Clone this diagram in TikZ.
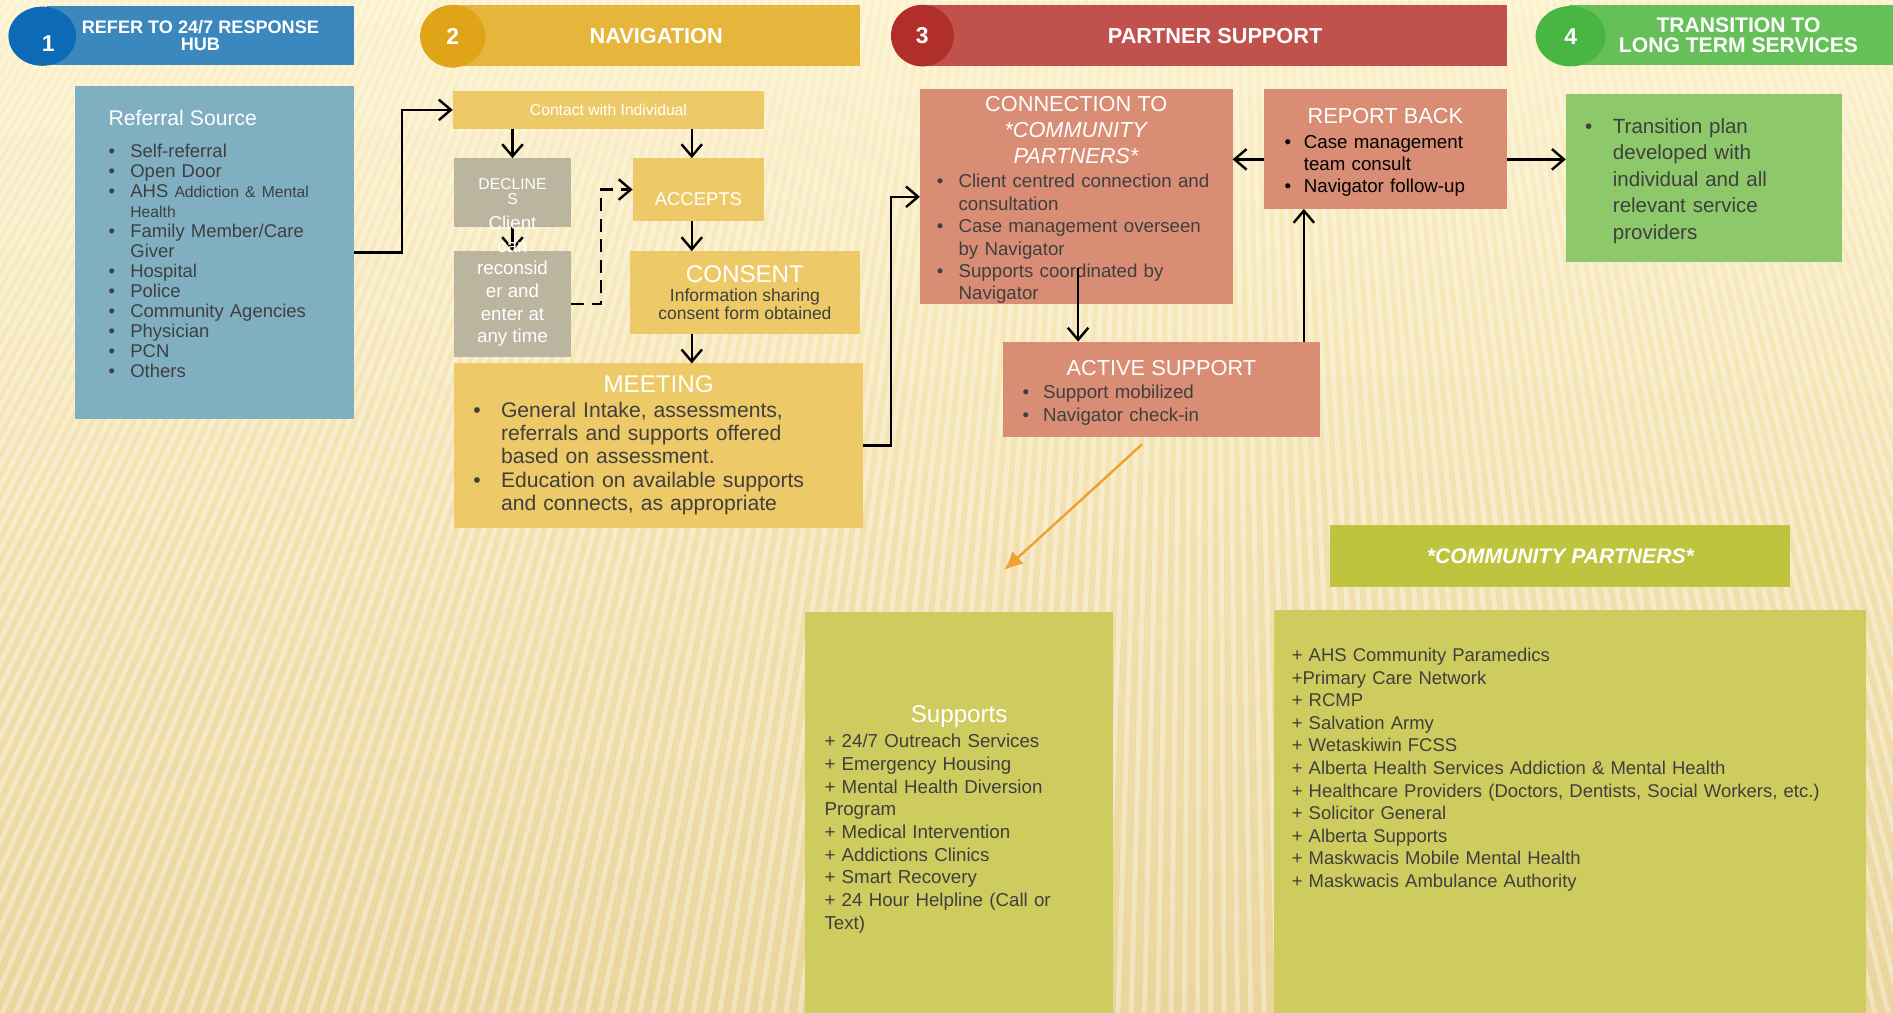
\documentclass[tikz,border=0pt]{standalone}
\usepackage{fontspec}
\setmainfont{Liberation Sans}
\usepackage{tikz}
\usetikzlibrary{shapes.geometric, arrows.meta, positioning}
\usepackage{xcolor}

\definecolor{bgtop}{HTML}{FCF0C6}
\definecolor{bgbottom}{HTML}{EAD59C}
\definecolor{hubcol}{HTML}{3B88BF}
\definecolor{hubdark}{HTML}{0D6BB5}
\definecolor{navcol}{HTML}{E5B63B}
\definecolor{navdark}{HTML}{DFA417}
\definecolor{partcol}{HTML}{C1514D}
\definecolor{partdark}{HTML}{B02F2B}
\definecolor{longcol}{HTML}{66C05A}
\definecolor{longdark}{HTML}{49B644}
\definecolor{reffill}{HTML}{81AFC2}
\definecolor{navfill}{HTML}{EDCA67}
\definecolor{greyfill}{HTML}{BBB49E}
\definecolor{redfill}{HTML}{D98D75}
\definecolor{greenfill}{HTML}{8DC86A}
\definecolor{olivefill}{HTML}{CFCC5F}
\definecolor{olivehead}{HTML}{BEC43D}
\definecolor{darktext}{HTML}{3F3F3F}
\definecolor{orangearrow}{HTML}{EFA031}

\newcommand\setfs[2]{\fontsize{#1}{#2}\selectfont}
% bullet item with hanging indent; \\ breaks the line inside the item
\newcommand\bitem[2][16pt]{\hangindent=#1\hangafter=1\makebox[#1][l]{\textbullet}{\let\\\newline#2}\par}

\begin{document}
\begin{tikzpicture}[%
        x=1pt, y=-1pt,                  % one unit per pixel, y grows downwards
        >={Straight Barb[length=10pt, width=17pt]},
        font=\setfs{15.3}{18},
    ]
    \tikzset{
        base/.style={rectangle, anchor=north west, inner sep=0pt, outer sep=0pt},
        hdr/.style={base, text=white, align=center, font=\bfseries\setfs{18}{17}},
        badge/.style={ellipse, inner sep=0pt, outer sep=0pt, text=white, font=\bfseries\setfs{19}{20}},
        navbox/.style={base, fill=navfill, text=white, align=center},
        greybox/.style={base, fill=greyfill, text=white, align=center},
        listbox/.style={base, text=darktext, align=left},
        redbox/.style={listbox, fill=redfill},
        olivebox/.style={listbox, fill=olivefill},
        % -------------------------------------------------
        % Connector line styles
        norm/.style={->, draw, black, line width=2pt},
        back/.style={norm, dash pattern=on 11pt off 6pt},
        link/.style={-{Latex[length=15pt, width=14pt]}, draw, orangearrow, line width=2pt},
    }
    %%% Background
    \useasboundingbox (0,0) rectangle (1568,839);
    \shade [top color=bgtop, bottom color=bgbottom] (0,0) rectangle (1568,839);
    \begin{scope}
        \clip (0,0) rectangle (1568,839);
        \foreach \x in {-900,-889,...,2200}
            \draw [white, opacity=.35, line width=4pt] (1000,-1500) -- (\x,839);
    \end{scope}
    %%% Headers
    \node [hdr, fill=hubcol, minimum width=254pt, minimum height=49pt, font=\bfseries\setfs{15}{14}] (hubhdr) at (39,5) {REFER TO 24/7 RESPONSE\\HUB};
    \node [badge, fill=hubdark, minimum width=56pt, minimum height=49pt, text height=25pt] (hubnum) at (35,30) {\hspace{10pt}1};
    \node [hdr, fill=navcol, minimum width=337pt, minimum height=51pt] (navhdr) at (375,4) {NAVIGATION};
    \node [badge, fill=navdark, minimum width=54pt, minimum height=52pt] (navnum) at (375,30) {2};
    \node [hdr, fill=partcol, minimum width=483pt, minimum height=51pt] (parthdr) at (765,4) {PARTNER SUPPORT};
    \node [badge, fill=partdark, minimum width=52pt, minimum height=51pt] (partnum) at (764,29.5) {3};
    \node [hdr, fill=longcol, minimum width=280pt, minimum height=50pt, font=\bfseries\setfs{17.5}{17}] (longhdr) at (1300,4) {TRANSITION TO\\LONG TERM SERVICES};
    \node [badge, fill=longdark, minimum width=58pt, minimum height=50pt] (longnum) at (1301,30) {4};
    %%% Blocks
    \node [listbox, fill=reffill, minimum width=231pt, minimum height=276pt, text width=175pt, text depth=222pt, font=\setfs{15.3}{16.6}] (referral) at (62,71) {%
        {\color{white}\setfs{17.5}{21}Referral Source\par}
        \vspace{9.4pt}
        \bitem[18pt]{Self-referral}
        \bitem[18pt]{Open Door}
        \bitem[18pt]{AHS {\setfs{13}{15}Addiction \& Mental\\Health}}
        \bitem[18pt]{Family Member/Care\\Giver}
        \bitem[18pt]{Hospital}
        \bitem[18pt]{Police}
        \bitem[18pt]{Community Agencies}
        \bitem[18pt]{Physician}
        \bitem[18pt]{PCN}
        \bitem[18pt]{Others}};
    \node [navbox, minimum width=258pt, minimum height=32pt, font=\setfs{13}{15}] (contact) at (375,75) {Contact with Individual};
    \node [greybox, minimum width=97pt, minimum height=57pt, text height=20pt, font=\setfs{13}{12.5}] (declines) at (376,131) {DECLINE\\S};
    \node [greybox, minimum width=97pt, minimum height=88pt] (reconsider) at (376,208) {};
    \node [navbox, minimum width=109pt, minimum height=52pt, text height=27pt, font=\setfs{15.3}{18}] (accepts) at (524,131) {ACCEPTS};
    \node [navbox, text=darktext, minimum width=190pt, minimum height=69pt, font=\setfs{14.5}{15.5}] (consent) at (522,208) {{\color{white}\setfs{20}{22}CONSENT}\\Information sharing\\consent form obtained};
    \node [listbox, fill=navfill, minimum width=339pt, minimum height=136pt, text width=307pt, font=\setfs{17.5}{19.3}] (meeting) at (376,301) {%
        {\centering\color{white}\setfs{20}{24}MEETING\par}
        \vspace{1pt}
        \bitem[23pt]{General Intake, assessments,\\referrals and supports offered\\based on assessment.}
        \bitem[23pt]{Education on available supports\\and connects, as appropriate}};
    \node [redbox, minimum width=259pt, minimum height=178pt, text width=231pt, text height=18pt, font=\setfs{15.5}{18.6}] (connection) at (762,74) {%
        {\centering\color{white}\setfs{18}{21.5}CONNECTION TO\\\textit{*COMMUNITY}\\\textit{PARTNERS*}\par}
        \vspace{1.5pt}
        \bitem[18pt]{Client centred connection and\\consultation}
        \bitem[18pt]{Case management overseen\\by Navigator}
        \bitem[18pt]{Supports coordinated by\\Navigator}};
    \node [redbox, text=black, minimum width=201pt, minimum height=99pt, text width=167pt, text height=18pt, font=\setfs{15.5}{18}] (report) at (1047,74) {%
        {\centering\color{white}\setfs{18}{21}REPORT BACK\par}
        \vspace{3pt}
        \bitem{Case management\\team consult}
        \bitem{Navigator follow-up}};
    \node [listbox, fill=greenfill, minimum width=229pt, minimum height=139pt, text width=197pt, text height=17pt, font=\setfs{17}{22}] (transition) at (1297,78) {%
        \bitem[23pt]{Transition plan\\developed with\\individual and all\\relevant service\\providers}};
    \node [redbox, minimum width=262pt, minimum height=79pt, text width=230pt, text height=18pt, font=\setfs{15.5}{19}] (active) at (831,283) {%
        {\centering\color{white}\setfs{18}{21}ACTIVE SUPPORT\par}
        \bitem[17pt]{Support mobilized}
        \bitem[17pt]{Navigator check-in}};
    \node [olivebox, minimum width=255pt, minimum height=332pt, text width=223pt, text height=25pt, font=\setfs{15.5}{18.75}] (supports) at (667,507) {%
        {\centering\color{white}\setfs{20}{24}Supports\par}
        \vspace{2.5pt}
        + 24/7 Outreach Services\\
        + Emergency Housing\\
        + Mental Health Diversion\\
        Program\\
        + Medical Intervention\\
        + Addictions Clinics\\
        + Smart Recovery\\
        + 24 Hour Helpline (Call or\\
        Text)};
    \node [base, fill=olivehead, text=white, minimum width=381pt, minimum height=51pt, font=\bfseries\itshape\setfs{17.5}{20}] (cphdr) at (1102,435) {*COMMUNITY PARTNERS*};
    \node [olivebox, minimum width=491pt, minimum height=334pt, text width=461pt, text depth=259pt, font=\setfs{15.3}{18.7}] (partners) at (1055,505) {%
        + AHS Community Paramedics\\
        +Primary Care Network\\
        + RCMP\\
        + Salvation Army\\
        + Wetaskiwin FCSS\\
        + Alberta Health Services Addiction \& Mental Health\\
        + Healthcare Providers (Doctors, Dentists, Social Workers, etc.)\\
        + Solicitor General\\
        + Alberta Supports\\
        + Maskwacis Mobile Mental Health\\
        + Maskwacis Ambulance Authority};
    %%% Nodes
    \coordinate (acceptsx) at ([xshift=-5.5pt]accepts.north);
    \coordinate (reportl) at ([yshift=-8.5pt]report.west);
    \coordinate (reportr) at ([yshift=-8.5pt]report.east);
    \coordinate (connfoot) at ([xshift=1.5pt, yshift=30pt]connection.south);
    \coordinate (activetop) at ([xshift=-13pt]active.north east);
    \coordinate (linktail) at ([xshift=-16pt, yshift=-6pt]active.south);
    \coordinate (linkhead) at ([xshift=37.5pt, yshift=35pt]supports.north);
    %%% Connectors
    % -- navigation
    \draw [norm] (referral.east) -- ++(40,0) |- (contact.west);
    \draw [norm] (contact.south -| declines.north) -- (declines.north);
    \draw [norm] (contact.south -| acceptsx) -- (acceptsx);
    \draw [norm] (declines) -- (reconsider);
    \draw [back] (reconsider.east) -- ++(25,0) |- (accepts.west);
    \draw [norm] (accepts.south -| acceptsx) -- (consent.north -| acceptsx);
    \draw [norm] (consent.south -| acceptsx) -- (meeting.north -| acceptsx);
    % -- partner support
    \draw [norm] (meeting.east) -- ++(23,0) |- (connection.west);
    \draw [norm] (reportl) -- (reportl -| connection.east);
    \draw [norm] (reportr) -- (reportr -| transition.west);
    \draw [norm] (connfoot) -- (connfoot |- active.north);
    \draw [norm] (activetop) -- (activetop |- report.south);
    \draw [link] (linktail) -- (linkhead);
    %%% Overflowing text of the grey box
    \node [text=white, align=center, font=\setfs{15.5}{18.8}] (clienttext) at (424.5,233) {Client\\can\\reconsid\\er and\\enter at\\any time};
\end{tikzpicture}
\end{document}
